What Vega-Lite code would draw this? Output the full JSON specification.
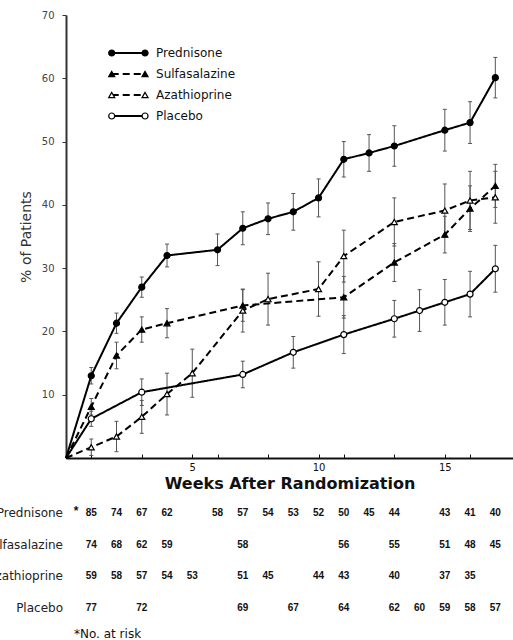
{
  "$schema": "https://vega.github.io/schema/vega-lite/v6.json",
  "width": 447,
  "height": 443,
  "autosize": {"type": "none"},
  "padding": {"left": 66, "top": 15, "right": 0, "bottom": 182},
  "background": "white",
  "config": {"view": {"stroke": null}, "font": "DejaVu Sans"},
  "datasets": {
    "curves": [
      {"series": "Prednisone", "week": 0, "pct": 0, "lo": 0, "hi": 0},
      {"series": "Prednisone", "week": 1, "pct": 13, "lo": 11.7, "hi": 14.3},
      {"series": "Prednisone", "week": 2, "pct": 21.3, "lo": 19.7, "hi": 22.9},
      {"series": "Prednisone", "week": 3, "pct": 27, "lo": 25.4, "hi": 28.6},
      {"series": "Prednisone", "week": 4, "pct": 32, "lo": 30.2, "hi": 33.8},
      {"series": "Prednisone", "week": 6, "pct": 32.9, "lo": 30.4, "hi": 35.4},
      {"series": "Prednisone", "week": 7, "pct": 36.3, "lo": 33.7, "hi": 38.9},
      {"series": "Prednisone", "week": 8, "pct": 37.8, "lo": 35.3, "hi": 40.3},
      {"series": "Prednisone", "week": 9, "pct": 38.9, "lo": 36.0, "hi": 41.8},
      {"series": "Prednisone", "week": 10, "pct": 41.1, "lo": 38.1, "hi": 44.1},
      {"series": "Prednisone", "week": 11, "pct": 47.2, "lo": 44.4, "hi": 50.0},
      {"series": "Prednisone", "week": 12, "pct": 48.2, "lo": 45.3, "hi": 51.1},
      {"series": "Prednisone", "week": 13, "pct": 49.3, "lo": 46.1, "hi": 52.5},
      {"series": "Prednisone", "week": 15, "pct": 51.8, "lo": 48.5, "hi": 55.1},
      {"series": "Prednisone", "week": 16, "pct": 53.0, "lo": 49.7, "hi": 56.3},
      {"series": "Prednisone", "week": 17, "pct": 60.1, "lo": 56.9, "hi": 63.3},
      {"series": "Sulfasalazine", "week": 0, "pct": 0, "lo": 0, "hi": 0},
      {"series": "Sulfasalazine", "week": 1, "pct": 8.1, "lo": 6.8, "hi": 9.4},
      {"series": "Sulfasalazine", "week": 2, "pct": 16.2, "lo": 14.1, "hi": 18.3},
      {"series": "Sulfasalazine", "week": 3, "pct": 20.3, "lo": 18.3, "hi": 22.3},
      {"series": "Sulfasalazine", "week": 4, "pct": 21.3, "lo": 19.0, "hi": 23.6},
      {"series": "Sulfasalazine", "week": 7, "pct": 24.1, "lo": 21.6, "hi": 26.6},
      {"series": "Sulfasalazine", "week": 11, "pct": 25.4, "lo": 22.1, "hi": 28.7},
      {"series": "Sulfasalazine", "week": 13, "pct": 30.9, "lo": 27.9, "hi": 33.9},
      {"series": "Sulfasalazine", "week": 15, "pct": 35.3, "lo": 32.4, "hi": 38.2},
      {"series": "Sulfasalazine", "week": 16, "pct": 39.4, "lo": 35.8, "hi": 43.0},
      {"series": "Sulfasalazine", "week": 17, "pct": 43.0, "lo": 39.6, "hi": 46.4},
      {"series": "Azathioprine", "week": 0, "pct": 0, "lo": 0, "hi": 0},
      {"series": "Azathioprine", "week": 1, "pct": 1.7, "lo": 0.4, "hi": 3.0},
      {"series": "Azathioprine", "week": 2, "pct": 3.4, "lo": 1.0, "hi": 5.8},
      {"series": "Azathioprine", "week": 3, "pct": 6.5, "lo": 3.9, "hi": 9.1},
      {"series": "Azathioprine", "week": 4, "pct": 10.1, "lo": 6.8, "hi": 13.4},
      {"series": "Azathioprine", "week": 5, "pct": 13.4, "lo": 9.6, "hi": 17.2},
      {"series": "Azathioprine", "week": 7, "pct": 23.3, "lo": 19.9, "hi": 26.7},
      {"series": "Azathioprine", "week": 8, "pct": 25.1, "lo": 21.0, "hi": 29.2},
      {"series": "Azathioprine", "week": 10, "pct": 26.7, "lo": 22.4, "hi": 31.0},
      {"series": "Azathioprine", "week": 11, "pct": 31.9, "lo": 27.8, "hi": 36.0},
      {"series": "Azathioprine", "week": 13, "pct": 37.3, "lo": 33.5, "hi": 41.1},
      {"series": "Azathioprine", "week": 15, "pct": 39.1, "lo": 34.9, "hi": 43.3},
      {"series": "Azathioprine", "week": 16, "pct": 40.7, "lo": 36.1, "hi": 45.3},
      {"series": "Azathioprine", "week": 17, "pct": 41.2, "lo": 37.1, "hi": 45.3},
      {"series": "Placebo", "week": 0, "pct": 0, "lo": 0, "hi": 0},
      {"series": "Placebo", "week": 1, "pct": 6.2, "lo": 5.0, "hi": 7.4},
      {"series": "Placebo", "week": 3, "pct": 10.4, "lo": 8.3, "hi": 12.5},
      {"series": "Placebo", "week": 7, "pct": 13.2, "lo": 11.1, "hi": 15.3},
      {"series": "Placebo", "week": 9, "pct": 16.7, "lo": 14.2, "hi": 19.2},
      {"series": "Placebo", "week": 11, "pct": 19.5, "lo": 16.5, "hi": 22.5},
      {"series": "Placebo", "week": 13, "pct": 22.0, "lo": 19.1, "hi": 24.9},
      {"series": "Placebo", "week": 14, "pct": 23.3, "lo": 20.0, "hi": 26.6},
      {"series": "Placebo", "week": 15, "pct": 24.6, "lo": 21.0, "hi": 28.2},
      {"series": "Placebo", "week": 16, "pct": 25.9, "lo": 22.3, "hi": 29.5},
      {"series": "Placebo", "week": 17, "pct": 29.9, "lo": 26.2, "hi": 33.6}
    ],
    "risk": [
      {"series": "Prednisone", "week": 1, "n": 85},
      {"series": "Prednisone", "week": 2, "n": 74},
      {"series": "Prednisone", "week": 3, "n": 67},
      {"series": "Prednisone", "week": 4, "n": 62},
      {"series": "Prednisone", "week": 6, "n": 58},
      {"series": "Prednisone", "week": 7, "n": 57},
      {"series": "Prednisone", "week": 8, "n": 54},
      {"series": "Prednisone", "week": 9, "n": 53},
      {"series": "Prednisone", "week": 10, "n": 52},
      {"series": "Prednisone", "week": 11, "n": 50},
      {"series": "Prednisone", "week": 12, "n": 45},
      {"series": "Prednisone", "week": 13, "n": 44},
      {"series": "Prednisone", "week": 15, "n": 43},
      {"series": "Prednisone", "week": 16, "n": 41},
      {"series": "Prednisone", "week": 17, "n": 40},
      {"series": "Sulfasalazine", "week": 1, "n": 74},
      {"series": "Sulfasalazine", "week": 2, "n": 68},
      {"series": "Sulfasalazine", "week": 3, "n": 62},
      {"series": "Sulfasalazine", "week": 4, "n": 59},
      {"series": "Sulfasalazine", "week": 7, "n": 58},
      {"series": "Sulfasalazine", "week": 11, "n": 56},
      {"series": "Sulfasalazine", "week": 13, "n": 55},
      {"series": "Sulfasalazine", "week": 15, "n": 51},
      {"series": "Sulfasalazine", "week": 16, "n": 48},
      {"series": "Sulfasalazine", "week": 17, "n": 45},
      {"series": "Azathioprine", "week": 1, "n": 59},
      {"series": "Azathioprine", "week": 2, "n": 58},
      {"series": "Azathioprine", "week": 3, "n": 57},
      {"series": "Azathioprine", "week": 4, "n": 54},
      {"series": "Azathioprine", "week": 5, "n": 53},
      {"series": "Azathioprine", "week": 7, "n": 51},
      {"series": "Azathioprine", "week": 8, "n": 45},
      {"series": "Azathioprine", "week": 10, "n": 44},
      {"series": "Azathioprine", "week": 11, "n": 43},
      {"series": "Azathioprine", "week": 13, "n": 40},
      {"series": "Azathioprine", "week": 15, "n": 37},
      {"series": "Azathioprine", "week": 16, "n": 35},
      {"series": "Placebo", "week": 1, "n": 77},
      {"series": "Placebo", "week": 3, "n": 72},
      {"series": "Placebo", "week": 7, "n": 69},
      {"series": "Placebo", "week": 9, "n": 67},
      {"series": "Placebo", "week": 11, "n": 64},
      {"series": "Placebo", "week": 13, "n": 62},
      {"series": "Placebo", "week": 14, "n": 60},
      {"series": "Placebo", "week": 15, "n": 59},
      {"series": "Placebo", "week": 16, "n": 58},
      {"series": "Placebo", "week": 17, "n": 57}
    ],
    "legend": [
      {"series": "Prednisone"},
      {"series": "Sulfasalazine"},
      {"series": "Azathioprine"},
      {"series": "Placebo"}
    ],
    "note": [{"note": "*No. at risk"}]
  },
  "layer": [
    {
      "data": {"name": "curves"},
      "layer": [
        {
          "transform": [{"filter": "datum.week > 0"}],
          "mark": {"type": "rule", "stroke": "#555", "strokeWidth": 1},
          "encoding": {
            "x": {
              "field": "week", "type": "quantitative",
              "scale": {"domain": [0, 17.7], "nice": false},
              "axis": {
                "title": "Weeks After Randomization",
                "orient": "bottom",
                "values": [5, 10, 15],
                "labelOverlap": false,
                "labelFlush": false,
                "grid": false,
                "domainColor": "#111", "domainWidth": 2,
                "tickColor": "#111", "tickSize": -4, "tickWidth": 1,
                "labelFont": "DejaVu Sans", "labelFontSize": 10, "labelColor": "#111",
                "labelPadding": 8,
                "titleFont": "DejaVu Sans", "titleFontSize": 16, "titleFontWeight": "bold",
                "titleColor": "#111", "titlePadding": 3
              }
            },
            "y": {
              "field": "lo", "type": "quantitative",
              "scale": {"domain": [0, 70], "nice": false},
              "axis": {
                "title": "% of Patients",
                "values": [10, 20, 30, 40, 50, 60, 70],
                "grid": false,
                "domainColor": "#333", "domainWidth": 2,
                "tickColor": "#333", "tickSize": 4, "tickWidth": 1,
                "labelFont": "DejaVu Sans", "labelFontSize": 10, "labelColor": "#444",
                "labelPadding": 8,
                "titleFont": "DejaVu Sans", "titleFontSize": 14, "titleFontWeight": "normal",
                "titleColor": "#333", "titlePadding": 8
              }
            },
            "y2": {"field": "hi"}
          }
        },
        {
          "transform": [{"filter": "datum.week > 0"}],
          "mark": {"type": "tick", "orient": "horizontal", "size": 4, "thickness": 1, "color": "#555", "opacity": 1},
          "encoding": {
            "x": {"field": "week", "type": "quantitative"},
            "y": {"field": "lo", "type": "quantitative"}
          }
        },
        {
          "transform": [{"filter": "datum.week > 0"}],
          "mark": {"type": "tick", "orient": "horizontal", "size": 4, "thickness": 1, "color": "#555", "opacity": 1},
          "encoding": {
            "x": {"field": "week", "type": "quantitative"},
            "y": {"field": "hi", "type": "quantitative"}
          }
        },
        {
          "mark": {"type": "line", "stroke": "black", "strokeWidth": 2},
          "encoding": {
            "x": {"field": "week", "type": "quantitative"},
            "y": {"field": "pct", "type": "quantitative"},
            "detail": {"field": "series"},
            "strokeDash": {
              "field": "series", "type": "nominal", "legend": null,
              "scale": {"domain": ["Prednisone", "Sulfasalazine", "Azathioprine", "Placebo"], "range": [[1, 0], [7, 4], [7, 4], [1, 0]]}
            }
          }
        },
        {
          "transform": [{"filter": "datum.week > 0"}],
          "mark": {"type": "point", "filled": true, "stroke": "black", "strokeWidth": 1.2, "opacity": 1},
          "encoding": {
            "x": {"field": "week", "type": "quantitative"},
            "y": {"field": "pct", "type": "quantitative"},
            "shape": {
              "field": "series", "type": "nominal", "legend": null,
              "scale": {"domain": ["Prednisone", "Sulfasalazine", "Azathioprine", "Placebo"], "range": ["circle", "triangle-up", "triangle-up", "circle"]}
            },
            "fill": {
              "field": "series", "type": "nominal", "legend": null,
              "scale": {"domain": ["Prednisone", "Sulfasalazine", "Azathioprine", "Placebo"], "range": ["black", "black", "white", "white"]}
            },
            "size": {"value": 36}
          }
        }
      ]
    },
    {
      "data": {"name": "legend"},
      "layer": [
        {
          "mark": {"type": "rule", "stroke": "black", "strokeWidth": 2},
          "encoding": {
            "x": {"datum": 1.81, "type": "quantitative",
                  "axis": {"orient": "bottom", "values": [1, 2, 3, 4, 6, 7, 8, 9, 11, 12, 13, 14, 16, 17],
                           "labels": false, "domain": false, "grid": false, "title": null,
                           "tickColor": "#111", "tickSize": -4, "tickWidth": 1}},
            "x2": {"datum": 3.13},
            "y": {"field": "series", "type": "nominal", "axis": null,
                  "scale": {"type": "point", "domain": ["Prednisone", "Sulfasalazine", "Azathioprine", "Placebo"], "range": [38, 101], "padding": 0}},
            "strokeDash": {
              "field": "series", "type": "nominal", "legend": null,
              "scale": {"domain": ["Prednisone", "Sulfasalazine", "Azathioprine", "Placebo"], "range": [[1, 0], [7, 4], [7, 4], [1, 0]]}
            }
          }
        },
        {
          "mark": {"type": "point", "filled": true, "stroke": "black", "strokeWidth": 1.2, "opacity": 1},
          "encoding": {
            "x": {"datum": 1.81, "type": "quantitative"},
            "y": {"field": "series", "type": "nominal", "axis": null},
            "shape": {"field": "series", "type": "nominal", "legend": null,
              "scale": {"domain": ["Prednisone", "Sulfasalazine", "Azathioprine", "Placebo"], "range": ["circle", "triangle-up", "triangle-up", "circle"]}},
            "fill": {"field": "series", "type": "nominal", "legend": null,
              "scale": {"domain": ["Prednisone", "Sulfasalazine", "Azathioprine", "Placebo"], "range": ["black", "black", "white", "white"]}},
            "size": {"value": 36}
          }
        },
        {
          "mark": {"type": "point", "filled": true, "stroke": "black", "strokeWidth": 1.2, "opacity": 1},
          "encoding": {
            "x": {"datum": 3.13, "type": "quantitative"},
            "y": {"field": "series", "type": "nominal", "axis": null},
            "shape": {"field": "series", "type": "nominal", "legend": null,
              "scale": {"domain": ["Prednisone", "Sulfasalazine", "Azathioprine", "Placebo"], "range": ["circle", "triangle-up", "triangle-up", "circle"]}},
            "fill": {"field": "series", "type": "nominal", "legend": null,
              "scale": {"domain": ["Prednisone", "Sulfasalazine", "Azathioprine", "Placebo"], "range": ["black", "black", "white", "white"]}},
            "size": {"value": 36}
          }
        },
        {
          "mark": {"type": "text", "align": "left", "baseline": "middle", "dx": 11, "font": "DejaVu Sans", "fontSize": 12, "color": "#111"},
          "encoding": {
            "x": {"datum": 3.13, "type": "quantitative"},
            "y": {"field": "series", "type": "nominal", "axis": null},
            "text": {"field": "series"}
          }
        }
      ]
    },
    {
      "data": {"name": "risk"},
      "layer": [
        {
          "mark": {"type": "text", "align": "center", "baseline": "middle", "font": "Liberation Sans", "fontSize": 10, "fontWeight": "bold", "color": "#111"},
          "encoding": {
            "x": {"field": "week", "type": "quantitative", "axis": null},
            "y": {"field": "series", "type": "nominal", "axis": null,
                  "scale": {"type": "point", "domain": ["Prednisone", "Sulfasalazine", "Azathioprine", "Placebo"], "range": [498, 593], "padding": 0}},
            "text": {"field": "n"}
          }
        },
        {
          "data": {"name": "legend"},
          "mark": {"type": "text", "align": "right", "baseline": "middle", "dx": -3, "font": "DejaVu Sans", "fontSize": 12, "color": "#222"},
          "encoding": {
            "x": {"datum": 0, "type": "quantitative", "axis": null},
            "y": {"field": "series", "type": "nominal", "axis": null},
            "text": {"field": "series"}
          }
        },
        {
          "data": {"name": "note"},
          "mark": {"type": "text", "text": "*", "align": "center", "baseline": "middle", "dx": 10, "dy": -2, "font": "Liberation Sans", "fontSize": 12, "fontWeight": "bold", "color": "#111"},
          "encoding": {
            "x": {"datum": 0, "type": "quantitative", "axis": null},
            "y": {"datum": "Prednisone", "type": "nominal", "axis": null}
          }
        },
        {
          "data": {"name": "note"},
          "mark": {"type": "text", "align": "left", "baseline": "middle", "dx": 8, "dy": 26, "font": "DejaVu Sans", "fontSize": 12, "color": "#111"},
          "encoding": {
            "x": {"datum": 0, "type": "quantitative", "axis": null},
            "y": {"datum": "Placebo", "type": "nominal", "axis": null},
            "text": {"field": "note"}
          }
        }
      ]
    }
  ],
  "resolve": {"scale": {"y": "independent"}, "axis": {"x": "independent"}}
}
